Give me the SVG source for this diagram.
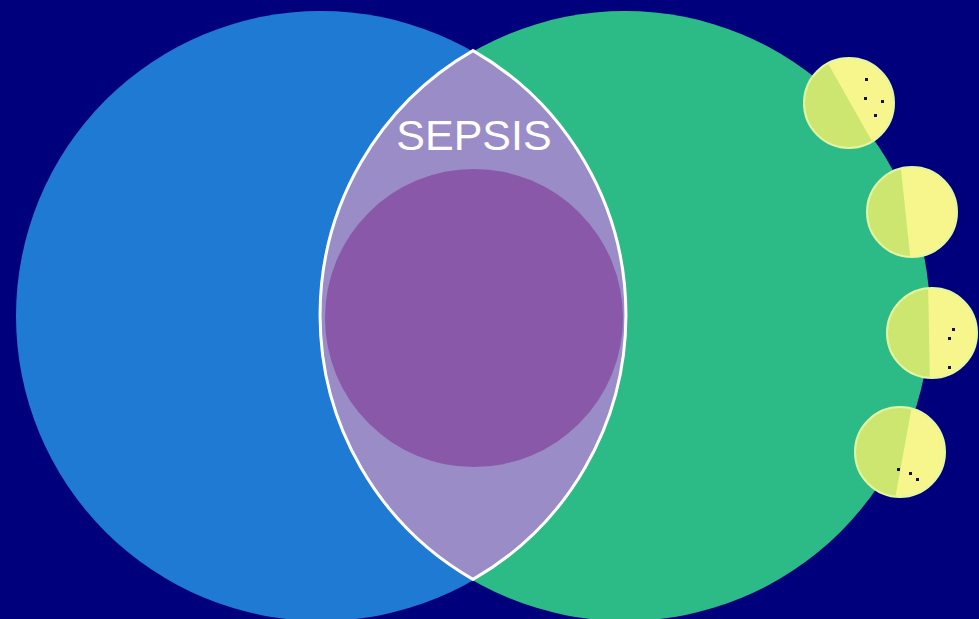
<svg xmlns="http://www.w3.org/2000/svg" width="979" height="619" viewBox="0 0 979 619">
<style>
.cell-y{fill:#f6f68c}
.cell-g{fill:#cde66f}
.cell-edge{fill:none;stroke:#e2f7a0;stroke-width:2}
.dot{fill:#111111}
.label{font-family:"Liberation Sans",Arial,sans-serif;font-size:43px;fill:#ffffff;text-anchor:middle}
</style>
<defs>
<clipPath id="lensClip"><path d="M473,50.6 A305,305 0 0 1 473,579.4 A305,305 0 0 1 473,50.6 Z"/></clipPath>
<clipPath id="c1"><circle cx="849" cy="103" r="45"/></clipPath>
<clipPath id="c2"><circle cx="912" cy="212" r="45"/></clipPath>
<clipPath id="c3"><circle cx="932" cy="333" r="45"/></clipPath>
<clipPath id="c4"><circle cx="900" cy="452" r="45"/></clipPath>
</defs>
<rect x="0" y="0" width="979" height="619" fill="#00007c"/>
<g id="blue-circle"><circle cx="321" cy="316" r="305" fill="#1f7ad3"/></g>
<g id="green-circle"><circle cx="625" cy="316" r="305" fill="#2cbb86"/></g>
<g id="sepsis">
<path d="M473,50.6 A305,305 0 0 1 473,579.4 A305,305 0 0 1 473,50.6 Z" fill="#9a8cc7"/>
<circle cx="474" cy="318" r="149" fill="#8a58a8" clip-path="url(#lensClip)"/>
<path d="M473,50.6 A305,305 0 0 1 473,579.4 A305,305 0 0 1 473,50.6 Z" fill="none" stroke="#ffffff" stroke-width="3"/>
<text class="label" x="474" y="150">SEPSIS</text>
</g>
<g id="cell-1">
<circle cx="849" cy="103" r="45" class="cell-y"/>
<polygon points="795,60 826,60 877,150 795,150" class="cell-g" clip-path="url(#c1)"/>
<circle cx="849" cy="103" r="45" class="cell-edge"/>
<rect class="dot" x="865" y="78" width="3" height="3"/><rect class="dot" x="864" y="97" width="3" height="3"/><rect class="dot" x="881" y="100" width="3" height="3"/><rect class="dot" x="874" y="114" width="3" height="3"/>
</g>
<g id="cell-2">
<circle cx="912" cy="212" r="45" class="cell-y"/>
<polygon points="860,160 900,160 911,264 860,264" class="cell-g" clip-path="url(#c2)"/>
<circle cx="912" cy="212" r="45" class="cell-edge"/>
</g>
<g id="cell-3">
<circle cx="932" cy="333" r="45" class="cell-y"/>
<polygon points="880,280 928,280 930,385 880,385" class="cell-g" clip-path="url(#c3)"/>
<circle cx="932" cy="333" r="45" class="cell-edge"/>
<rect class="dot" x="952" y="328" width="3" height="3"/><rect class="dot" x="948" y="337" width="3" height="3"/><rect class="dot" x="948" y="366" width="3" height="3"/>
</g>
<g id="cell-4">
<circle cx="900" cy="452" r="45" class="cell-y"/>
<polygon points="848,400 913,400 894,505 848,505" class="cell-g" clip-path="url(#c4)"/>
<circle cx="900" cy="452" r="45" class="cell-edge"/>
<rect class="dot" x="897" y="468" width="3" height="3"/><rect class="dot" x="909" y="472" width="3" height="3"/><rect class="dot" x="916" y="478" width="3" height="3"/>
</g>
<g id="connectors"/>
</svg>
